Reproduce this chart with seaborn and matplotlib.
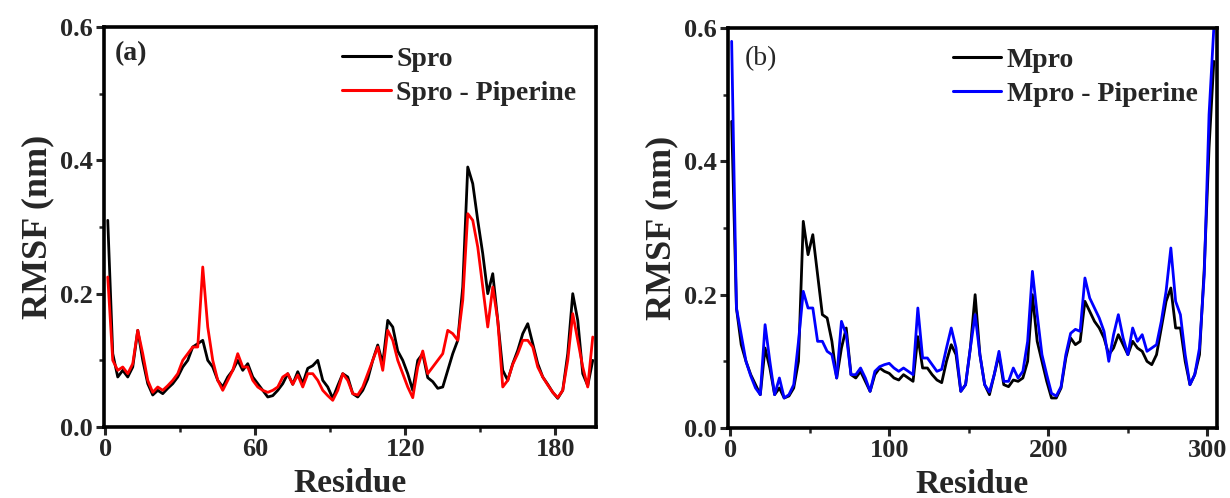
import numpy as np
import pandas as pd
import matplotlib
matplotlib.use("Agg")
import matplotlib.pyplot as plt
import seaborn as sns
from matplotlib.ticker import MultipleLocator

# ---------------- data ----------------
spro_residue = np.arange(1, 197, 2)
spro = [0.31, 0.11, 0.075, 0.085, 0.075, 0.09, 0.145, 0.10, 0.065, 0.048,
        0.055, 0.05, 0.058, 0.065, 0.075, 0.09, 0.10, 0.12, 0.125, 0.13,
        0.10, 0.09, 0.07, 0.06, 0.075, 0.085, 0.10, 0.085, 0.095, 0.075,
        0.065, 0.055, 0.045, 0.047, 0.055, 0.065, 0.08, 0.064, 0.083, 0.065,
        0.088, 0.092, 0.10, 0.07, 0.06, 0.043, 0.062, 0.08, 0.075, 0.05,
        0.045, 0.055, 0.072, 0.10, 0.123, 0.095, 0.16, 0.15, 0.114, 0.10,
        0.08, 0.055, 0.10, 0.11, 0.074, 0.068, 0.058, 0.06, 0.085, 0.11,
        0.13, 0.21, 0.39, 0.365, 0.31, 0.26, 0.20, 0.23, 0.16, 0.085,
        0.07, 0.095, 0.115, 0.14, 0.155, 0.125, 0.095, 0.075, 0.064, 0.052,
        0.043, 0.055, 0.11, 0.20, 0.16, 0.08, 0.062, 0.10]
spro_piperine = [0.225, 0.10, 0.085, 0.09, 0.08, 0.095, 0.145, 0.11, 0.07, 0.052,
                 0.06, 0.055, 0.062, 0.07, 0.08, 0.10, 0.11, 0.12, 0.12, 0.24,
                 0.15, 0.10, 0.07, 0.055, 0.07, 0.085, 0.11, 0.09, 0.09, 0.07,
                 0.06, 0.055, 0.052, 0.055, 0.06, 0.075, 0.08, 0.064, 0.078, 0.06,
                 0.08, 0.08, 0.07, 0.055, 0.047, 0.04, 0.055, 0.08, 0.07, 0.05,
                 0.048, 0.06, 0.08, 0.10, 0.12, 0.085, 0.145, 0.13, 0.10, 0.08,
                 0.06, 0.044, 0.09, 0.114, 0.08, 0.09, 0.10, 0.11, 0.145, 0.14,
                 0.13, 0.19, 0.32, 0.31, 0.27, 0.21, 0.15, 0.21, 0.16, 0.06,
                 0.07, 0.094, 0.11, 0.13, 0.13, 0.12, 0.09, 0.075, 0.063, 0.052,
                 0.044, 0.055, 0.10, 0.17, 0.13, 0.09, 0.06, 0.135]

mpro_residue = np.arange(1, 305, 3)
mpro = [0.46, 0.18, 0.125, 0.10, 0.08, 0.065, 0.05, 0.12, 0.09, 0.05,
        0.06, 0.045, 0.048, 0.06, 0.10, 0.31, 0.26, 0.29, 0.23, 0.17,
        0.165, 0.13, 0.075, 0.12, 0.15, 0.08, 0.075, 0.085, 0.07, 0.055,
        0.08, 0.09, 0.085, 0.082, 0.075, 0.072, 0.08, 0.075, 0.07, 0.137,
        0.09, 0.09, 0.08, 0.072, 0.068, 0.10, 0.125, 0.11, 0.055, 0.065,
        0.12, 0.20, 0.11, 0.065, 0.05, 0.08, 0.11, 0.065, 0.062, 0.072,
        0.07, 0.075, 0.10, 0.20, 0.13, 0.10, 0.07, 0.045, 0.045, 0.06,
        0.105, 0.135, 0.125, 0.13, 0.19, 0.175, 0.16, 0.15, 0.135, 0.11,
        0.12, 0.14, 0.125, 0.11, 0.13, 0.12, 0.115, 0.10, 0.095, 0.11,
        0.15, 0.19, 0.21, 0.15, 0.15, 0.10, 0.065, 0.08, 0.11, 0.24,
        0.42, 0.55]
mpro_piperine = [0.58, 0.18, 0.14, 0.10, 0.078, 0.06, 0.05, 0.155, 0.10, 0.05,
                 0.075, 0.045, 0.05, 0.065, 0.13, 0.205, 0.18, 0.18, 0.13, 0.13,
                 0.115, 0.11, 0.075, 0.16, 0.14, 0.08, 0.08, 0.09, 0.075, 0.055,
                 0.085, 0.092, 0.095, 0.097, 0.09, 0.085, 0.09, 0.085, 0.08, 0.18,
                 0.105, 0.105, 0.095, 0.085, 0.088, 0.12, 0.15, 0.12, 0.055, 0.065,
                 0.12, 0.17, 0.11, 0.065, 0.054, 0.08, 0.115, 0.07, 0.07, 0.09,
                 0.075, 0.085, 0.13, 0.235, 0.17, 0.11, 0.08, 0.052, 0.048, 0.062,
                 0.11, 0.142, 0.148, 0.145, 0.225, 0.195, 0.18, 0.165, 0.145, 0.10,
                 0.14, 0.17, 0.135, 0.11, 0.15, 0.13, 0.14, 0.115, 0.12, 0.125,
                 0.16, 0.205, 0.27, 0.19, 0.17, 0.11, 0.065, 0.08, 0.12, 0.23,
                 0.47, 0.60]

x_ticks_a = [0, 60, 120, 180]
x_ticks_b = [0, 100, 200, 300]
y_ticks = [0.0, 0.2, 0.4, 0.6]

# ---------------- style ----------------
sns.set_style("ticks")
plt.rcParams['font.family'] = ['Liberation Serif', 'DejaVu Serif']
plt.rcParams['font.weight'] = 'bold'
plt.rcParams['axes.labelweight'] = 'bold'

fig = plt.figure(figsize=(12.3, 4.98), dpi=100)
ax_a = fig.add_axes([104 / 1230, 71 / 498, 492 / 1230, 400 / 498])
ax_b = fig.add_axes([728 / 1230, 70 / 498, 489 / 1230, 400 / 498])

df_a = pd.DataFrame({
    "Residue": np.concatenate([spro_residue, spro_residue]),
    "RMSF": np.concatenate([spro, spro_piperine]),
    "System": ["Spro"] * len(spro) + ["Spro - Piperine"] * len(spro_piperine),
})
df_b = pd.DataFrame({
    "Residue": np.concatenate([mpro_residue, mpro_residue]),
    "RMSF": np.concatenate([mpro, mpro_piperine]),
    "System": ["Mpro"] * len(mpro) + ["Mpro - Piperine"] * len(mpro_piperine),
})

sns.lineplot(data=df_a, x="Residue", y="RMSF", hue="System",
             palette={"Spro": "black", "Spro - Piperine": "#ff0000"},
             linewidth=2.0, ax=ax_a)
sns.lineplot(data=df_b, x="Residue", y="RMSF", hue="System",
             palette={"Mpro": "black", "Mpro - Piperine": "#0000ff"},
             linewidth=2.0, ax=ax_b)

for ax, xt, xlim, minor in [(ax_a, x_ticks_a, (-0.5, 196.3), 30),
                            (ax_b, x_ticks_b, (-1.3, 306), 50)]:
    ax.set_xlim(*xlim)
    ax.set_ylim(0, 0.6)
    ax.set_xticks(xt)
    ax.set_yticks(y_ticks)
    ax.set_yticklabels([f"{v:.1f}" for v in y_ticks])
    ax.xaxis.set_minor_locator(MultipleLocator(minor))
    ax.yaxis.set_minor_locator(MultipleLocator(0.1))
    for s in ax.spines.values():
        s.set_visible(True)
        s.set_linewidth(2.6)
        s.set_color("black")
    ax.tick_params(which="major", direction="out", length=6, width=2.2,
                   labelsize=19, pad=2)
    ax.tick_params(which="minor", direction="out", length=3.5, width=1.8)
    for lbl in ax.get_xticklabels() + ax.get_yticklabels():
        lbl.set_fontweight("bold")
    ax.set_xlabel("Residue", fontsize=24, fontweight="bold", labelpad=5)
    ax.set_ylabel("RMSF (nm)", fontsize=26, fontweight="bold", labelpad=4)
    leg = ax.legend(loc="upper right", frameon=False, fontsize=20,
                    handlelength=1.75, handletextpad=0.2, labelspacing=0.3,
                    borderaxespad=0.3, bbox_to_anchor=(1.0, 1.0))
    for t in leg.get_texts():
        t.set_fontweight("bold")
    for h in leg.get_lines():
        h.set_linewidth(2.2)

ax_a.text(0.022, 0.965, "(a)", transform=ax_a.transAxes, fontsize=20,
          fontweight="bold", va="top", ha="left")
ax_b.text(0.035, 0.955, "(b)", transform=ax_b.transAxes, fontsize=20,
          fontweight="normal", va="top", ha="left")

fig.savefig("out.png", dpi=100, facecolor="white")
